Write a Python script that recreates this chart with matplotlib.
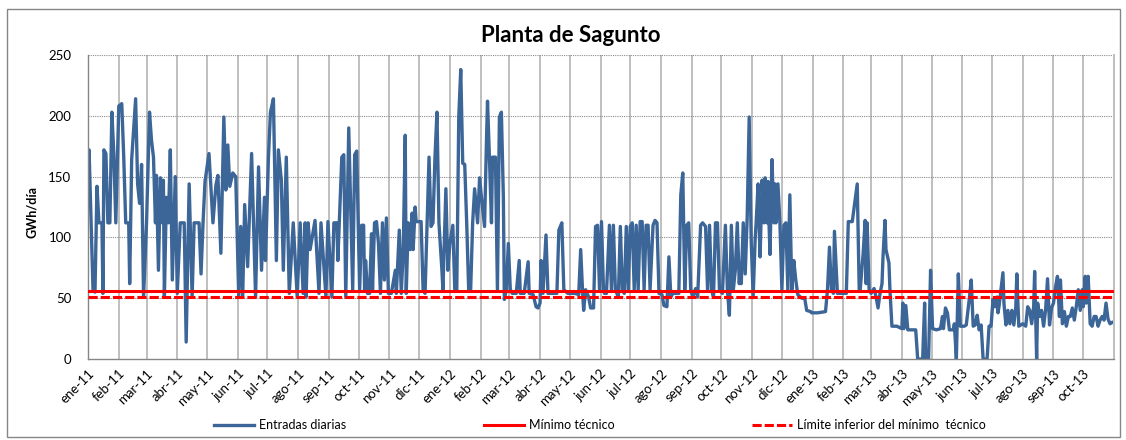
import matplotlib
matplotlib.use("Agg")
import matplotlib.pyplot as plt
import pandas as pd
from matplotlib.patches import Rectangle

# Entradas diarias (GWh/día), día contado desde el 1 de enero de 2011
dias_2011 = [
    0, 1, 5, 7, 9, 11, 14, 15, 16, 18,
    20, 22, 24, 26, 28, 31, 34, 36, 38, 41,
    42, 44, 48, 50, 52, 54, 56, 59, 62, 64,
    66, 68, 69, 71, 73, 75, 76, 77, 79, 81,
    83, 85, 88, 90, 93, 97, 99, 102, 105, 107,
    112, 114, 116, 118, 122, 126, 129, 131, 134, 137,
    139, 141, 143, 146, 149, 152, 154, 156, 158, 161,
    165, 169, 172, 175, 178, 179, 182, 184, 187, 190,
    192, 195, 197, 200, 203, 207, 211, 214, 217, 219,
    220, 222, 224, 229, 233, 235, 240, 242, 246, 248,
    251, 252, 256, 258, 260, 263, 267, 269, 271, 274,
    276, 278, 279, 280, 282, 284, 286, 287, 289, 291,
    293, 295, 297, 299, 301, 303, 306, 310, 311, 314,
    316, 318, 320, 321, 323, 325, 327, 328, 330, 331,
    336, 338, 340, 342, 344, 346, 348, 350, 352, 354,
    357, 358, 361, 363,
]
gwh_2011 = [
    150, 172, 57, 55, 142, 112, 112, 54, 172, 169,
    112, 112, 203, 169, 112, 208, 210, 166, 112, 112,
    62, 164, 214, 144, 128, 160, 51, 112, 203, 180,
    166, 112, 151, 73, 149, 112, 147, 51, 133, 112,
    172, 65, 150, 54, 112, 112, 14, 144, 51, 112,
    112, 70, 112, 146, 169, 112, 143, 151, 87, 199,
    139, 176, 142, 153, 150, 51, 109, 51, 127, 76,
    169, 51, 158, 73, 133, 81, 166, 203, 214, 81,
    172, 147, 73, 166, 54, 112, 51, 112, 54, 112,
    51, 112, 90, 114, 54, 112, 51, 113, 51, 112,
    112, 81, 166, 168, 51, 190, 57, 168, 171, 57,
    110, 110, 57, 81, 54, 54, 103, 57, 112, 113,
    95, 54, 112, 65, 116, 54, 54, 73, 54, 106,
    54, 90, 184, 54, 112, 90, 120, 90, 125, 113,
    113, 57, 54, 109, 166, 109, 112, 166, 203, 112,
    73, 57, 140, 73,
]

dias_2012 = [
    365, 368, 370, 372, 374, 376, 378, 380, 382, 384,
    386, 388, 390, 393, 395, 397, 400, 402, 403, 405,
    407, 408, 411, 413, 415, 417, 419, 420, 422, 424,
    426, 428, 432, 435, 436, 440, 444, 445, 449, 452,
    454, 456, 457, 459, 462, 464, 468, 473, 475, 478,
    480, 484, 491, 495, 497, 499, 500, 502, 505, 507,
    510, 512, 514, 516, 518, 520, 521, 523, 526, 528,
    530, 532, 535, 537, 539, 541, 543, 545, 547, 549,
    551, 553, 555, 557, 559, 561, 563, 565, 567, 570,
    572, 574, 576, 579, 581, 584, 586, 588, 590, 594,
    596, 598, 600, 602, 604, 606, 608, 610, 613, 615,
    618, 620, 623, 625, 627, 629, 631, 633, 635, 637,
    640, 643, 645, 647, 649, 651, 653, 655, 657, 658,
    659, 661, 663, 665, 667, 669, 671, 673, 674, 676,
    677, 678, 680, 682, 683, 685, 686, 687, 688, 690,
    692, 693, 694, 696, 698, 700, 702, 704, 706, 708,
    710, 712, 714, 716, 720, 723, 725, 729, 730,
]
gwh_2012 = [
    95, 110, 57, 57, 199, 238, 161, 160, 112, 57,
    57, 112, 140, 112, 149, 132, 109, 181, 212, 164,
    112, 166, 166, 57, 199, 203, 133, 49, 57, 95,
    57, 54, 54, 81, 54, 54, 80, 54, 53, 43,
    42, 46, 81, 54, 102, 54, 54, 54, 106, 112,
    57, 54, 54, 53, 90, 54, 40, 57, 51, 42,
    42, 109, 110, 57, 113, 57, 54, 54, 110, 57,
    110, 57, 51, 109, 57, 54, 109, 57, 109, 112,
    57, 110, 57, 113, 113, 57, 110, 110, 57, 110,
    114, 112, 54, 53, 44, 43, 84, 51, 54, 54,
    54, 135, 153, 57, 110, 112, 57, 51, 58, 51,
    110, 112, 109, 57, 110, 57, 51, 112, 112, 57,
    54, 110, 57, 36, 110, 57, 73, 112, 62, 76,
    62, 112, 70, 117, 199, 98, 51, 98, 112, 144,
    112, 84, 147, 112, 149, 112, 146, 112, 86, 164,
    112, 144, 112, 144, 112, 57, 110, 112, 57, 135,
    57, 81, 65, 53, 50, 50, 40, 39, 38,
]

dias_2013 = [
    736, 744, 746, 748, 750, 752, 753, 756, 760, 765,
    767, 771, 776, 778, 779, 782, 784, 785, 786, 788,
    790, 793, 795, 797, 799, 801, 802, 804, 805, 808,
    809, 811, 816, 821, 822, 823, 825, 827, 835, 837,
    842, 844, 845, 848, 850, 852, 856, 860, 862, 863,
    865, 867, 869, 873, 874, 876, 878, 880, 884, 886,
    889, 891, 893, 895, 897, 899, 901, 903, 907, 909,
    911, 913, 915, 917, 918, 919, 921, 923, 924, 926,
    928, 930, 932, 934, 936, 937, 939, 941, 943, 946,
    948, 950, 952, 954, 955, 957, 958, 960, 962, 964,
    966, 968, 970, 972, 974, 976, 978, 980, 981, 983,
    985, 987, 989, 991, 993, 995, 997, 999, 1001, 1003,
    1004, 1006, 1007, 1009, 1011, 1013, 1015, 1017, 1019, 1021,
    1023, 1025, 1027, 1029, 1031, 1033,
]
gwh_2013 = [
    38, 39, 57, 92, 57, 54, 105, 54, 54, 54,
    113, 113, 144, 57, 57, 87, 114, 62, 112, 57,
    54, 58, 51, 42, 54, 62, 84, 114, 90, 79,
    57, 27, 27, 25, 46, 25, 44, 24, 24, 0,
    0, 46, 0, 0, 73, 25, 24, 25, 35, 25,
    42, 38, 24, 24, 29, 0, 70, 27, 27, 28,
    49, 65, 27, 28, 36, 24, 28, 0, 0, 27,
    27, 49, 43, 51, 38, 43, 57, 71, 46, 28,
    40, 29, 40, 28, 43, 70, 27, 28, 29, 27,
    43, 40, 29, 43, 72, 0, 46, 35, 40, 27,
    40, 66, 28, 42, 46, 59, 68, 35, 65, 29,
    39, 27, 35, 35, 42, 32, 43, 57, 40, 57,
    43, 68, 46, 68, 29, 27, 35, 35, 27, 32,
    35, 32, 46, 33, 29, 30,
]

MINIMO_TECNICO = 56
LIMITE_INFERIOR = 51
MESES = ["ene", "feb", "mar", "abr", "may", "jun",
         "jul", "ago", "sep", "oct", "nov", "dic"]

INICIO = pd.Timestamp("2011-01-01")
FIN = pd.Timestamp("2013-11-01")

dias = dias_2011 + dias_2012 + dias_2013
gwh = gwh_2011 + gwh_2012 + gwh_2013
assert len(dias) == len(gwh)
fechas = (INICIO + pd.to_timedelta(dias, unit="D")).to_numpy()

plt.rcParams["font.family"] = ["Lato", "DejaVu Sans"]

fig = plt.figure(figsize=(11.26, 4.40), dpi=100)
fig.patch.set_facecolor("white")
ax = fig.add_axes([0.0782, 0.184, 0.9111, 0.691])

meses = pd.date_range(INICIO, FIN, freq="MS")
for m in meses[1:-1]:
    ax.axvline(m, color="#BFBFBF", lw=1.4, zorder=0)
for v in range(50, 251, 50):
    ax.axhline(v, color="#8C8C8C", lw=0.8, ls=(0, (1, 1)), zorder=0)

ax.plot(fechas, gwh, color="#3C6598", lw=2.4, solid_joinstyle="round",
        label="Entradas diarias", zorder=2)
ax.axhline(MINIMO_TECNICO, color="#FF0000", lw=2.2,
           label="Mínimo técnico", zorder=3)
ax.axhline(LIMITE_INFERIOR, color="#FF0000", lw=2.2, ls=(0, (3, 1)),
           label="Límite inferior del mínimo  técnico", zorder=3)

ax.set_xlim(INICIO, FIN)
ax.set_ylim(0, 250)
ax.set_yticks(range(0, 251, 50))
ax.set_xticks(meses[:-1])
ax.set_xticklabels([f"{MESES[m.month - 1]}-{m.year % 100:02d}" for m in meses[:-1]],
                   rotation=45, ha="right", va="top", rotation_mode="anchor")
ax.tick_params(axis="both", length=0, labelsize=9.5, colors="black")
ax.tick_params(axis="y", pad=12)
ax.tick_params(axis="x", pad=6)

ax.spines["top"].set_visible(False)
ax.spines["right"].set_color("#BFBFBF")
ax.spines["right"].set_linewidth(1.4)
for s in ("left", "bottom"):
    ax.spines[s].set_color("#868686")
    ax.spines[s].set_linewidth(1.0)

fig.text(571 / 1126, 1 - 36 / 440, "Planta de Sagunto", ha="center", va="center",
         fontsize=16, fontweight="bold")
fig.text(32 / 1126, 1 - 212 / 440, "GWh/día", ha="center", va="center",
         rotation=90, fontsize=9, fontweight="bold")

fig.legend(loc="center", bbox_to_anchor=(0.533, 1 - 425 / 440), ncol=3,
           frameon=False, fontsize=9, handlelength=3.2, handletextpad=0.4,
           columnspacing=11)

fig.add_artist(Rectangle((7 / 1126, 1 - 437 / 440), 1113 / 1126, 428 / 440,
                         transform=fig.transFigure, fill=False,
                         edgecolor="#868686", lw=1.0))

fig.savefig("out.png", dpi=100, facecolor="white")
